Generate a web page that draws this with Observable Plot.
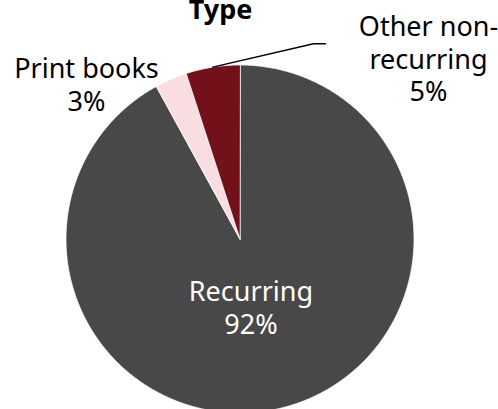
<!DOCTYPE html>
<html>
<head>
<meta charset="utf-8">
<script src="https://cdn.jsdelivr.net/npm/d3@7"></script>
<script src="https://cdn.jsdelivr.net/npm/@observablehq/plot@0.6"></script>
<style>
  html, body { margin: 0; padding: 0; background: #fff; }
  #chart svg { display: block; }
</style>
</head>
<body>
<div id="chart"></div>
<script>
// ---- data ----
const categories = ["Recurring", "Print books", "Other non-recurring"];
const shares = [92, 3, 5];
const labelLines = ["Recurring", "Print books", "Other non-\nrecurring"];
const titleText = "Type";

// ---- styling / layout (not data) ----
const palette = ["#484848", "#fadde0", "#72111a"];
const W = 498, H = 409, CX = 239.5, CY = 238.5, R = 174;
const FONT = "'Noto Sans', sans-serif";

const rows = categories.map((c, i) => ({category: c, share: shares[i], label: labelLines[i] + "\n" + shares[i] + "%"}));
const arcs = d3.pie().sort(null).value(d => d.share)(rows);

// slice polygons from pie angles (0 = 12 o'clock, clockwise)
const poly = [];
for (const a of arcs) {
  poly.push({category: a.data.category, x: 0, y: 0});
  const n = Math.max(2, Math.ceil((a.endAngle - a.startAngle) / (Math.PI / 360)));
  for (let k = 0; k <= n; k++) {
    const t = a.startAngle + (a.endAngle - a.startAngle) * k / n;
    poly.push({category: a.data.category, x: R * Math.sin(t), y: R * Math.cos(t)});
  }
}

// label placement: anchor along mid-angle at radius factor, then pixel offset
const place = {
  "Recurring": {rf: 0.5, dx: -10.7, dy: 10.6, fill: "white"},
  "Print books": {rf: 1, dx: -84.4, dy: 31.2, fill: "black"},
  "Other non-recurring": {rf: 1, dx: 215.7, dy: 34.1, fill: "black"}
};
const labels = arcs.map(a => {
  const m = (a.startAngle + a.endAngle) / 2, p = place[a.data.category];
  return {
    label: a.data.label,
    fill: p.fill,
    ax: R * Math.sin(m), ay: R * Math.cos(m),
    x: R * p.rf * Math.sin(m) + p.dx,
    y: R * p.rf * Math.cos(m) - p.dy
  };
});

// leader line for the small "Other" slice
const other = arcs[2];
const om = (other.startAngle + other.endAngle) / 2;
const ox = R * Math.sin(om), oy = R * Math.cos(om);
const leader = [
  {x: ox, y: oy},
  {x: ox + 100.7, y: oy + 23.3},
  {x: ox + 112.7, y: oy + 23.3}
];

const chart = Plot.plot({
  width: W, height: H, margin: 0,
  x: {domain: [-CX, W - CX], axis: null},
  y: {domain: [-(H - CY), CY], axis: null},
  color: {domain: categories, range: palette},
  style: {fontFamily: FONT, background: "white"},
  marks: [
    Plot.line(poly, {x: "x", y: "y", z: "category", fill: "category", stroke: "white", strokeWidth: 0.75, curve: "linear-closed"}),
    Plot.line(leader, {x: "x", y: "y", stroke: "black", strokeWidth: 1.5}),
    Plot.text(labels, {x: "x", y: "y", text: "label", fill: "fill", fontSize: 27, lineHeight: 1.2, lineAnchor: "bottom", textAnchor: "middle", fontFamily: FONT}),
    Plot.text([titleText], {frameAnchor: "top", text: d => d, dx: -29, dy: 18, lineAnchor: "bottom", fontSize: 27, fontWeight: "bold", fill: "black", fontFamily: FONT})
  ]
});
document.getElementById("chart").appendChild(chart);
</script>
</body>
</html>
